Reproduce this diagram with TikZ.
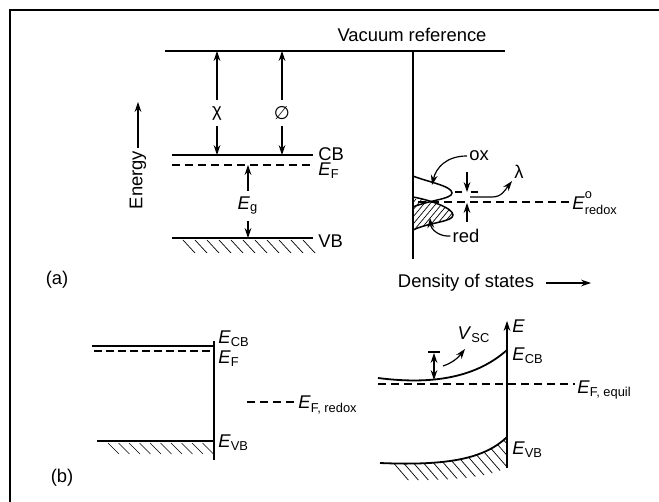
\documentclass[tikz,border=0pt]{standalone}
\usepackage{fontspec}
\setmainfont{Liberation Sans}
\newfontfamily\symfont{DejaVu Sans}
\usetikzlibrary{arrows.meta,positioning,calc}
\newcommand{\lev}[1]{\textit{E}\textsubscript{#1}}
\newcommand{\scriptfnt}{\fontsize{6.4}{7}\selectfont}
\newcommand{\redoxlabel}{\textit{E}\rlap{\raisebox{1.15ex}{\scriptfnt o}}\raisebox{-0.55ex}{\scriptfnt redox}}

\begin{document}
\begin{tikzpicture}[x=0.5pt, y=-0.5pt,
  every node/.style={font=\fontsize{9.2}{11}\selectfont, inner sep=1pt},
  level/.style={line width=0.9pt},
  thinline/.style={line width=0.6pt},
  fermi/.style={dash pattern=on 4pt off 2.5pt, line width=0.6pt},
  hatch/.style={line width=0.35pt},
  arr/.style={-{Stealth[length=5pt,width=3.4pt]}, line width=0.6pt}]
\useasboundingbox (0,0) rectangle (659,502);
\draw[line width=1pt] (10,502) -- (10,10) -- (659,10);

% (a) energy levels
\coordinate (vacL) at (165,51); \coordinate (vacR) at (505,51);
\coordinate (dosT) at (413,51); \coordinate (dosB) at (413,259);
\coordinate (cbL) at (172,155); \coordinate (cbR) at (313,155);
\coordinate (efL) at (172,165); \coordinate (efR) at (313,165);
\coordinate (vbL) at (172,238); \coordinate (vbR) at (313,238);
\draw[thinline] (vacL) -- (vacR);
\draw[thinline] (dosT) -- (dosB);
\node (vac) at (412,35) {Vacuum reference};
\draw[level] (cbL) -- (cbR);
\draw[fermi] (efL) -- (efR);
\draw[level] (vbL) -- (vbR);
\foreach \x in {183,195,...,303} \draw[hatch] (\x,240) -- ++(12,13);
\node[anchor=west] (cb) at (316,154) {CB};
\node[anchor=west] (ef) at (316,171) {\lev{F}};
\node[anchor=west] (vb) at (316,241) {VB};

\node[inner sep=3pt] (chi) at (217,113) {χ};
\draw[arr] (chi.north) -- (chi.north |- vacL);
\draw[arr] (chi.south) -- (chi.south |- cbL);
\node[inner sep=3pt] (phi) at (282,113) {\symfont ∅};
\draw[arr] (phi.north) -- (phi.north |- vacL);
\draw[arr] (phi.south) -- (phi.south |- cbL);
\node[inner sep=3pt] (eg) at (248,206) {\lev{g}};
\draw[arr] (eg.north) -- (eg.north |- efL);
\draw[arr] (eg.south) -- (eg.south |- vbL);

\node[rotate=90] (energy) at (138,180) {Energy};
\coordinate (enTip) at (138,102);
\draw[arr] (energy.east) -- (enTip);
\node (la) at (57,280) {(a)};

% (a) density of states
\begin{scope}
\clip (413,197) .. controls (430,200) and (453,208) .. (453,215) .. controls (453,222) and (430,222) .. (413,230) -- cycle;
\foreach \x in {380,386,...,470} \draw[hatch] (\x,235) -- ++(30,-36);
\end{scope}
\draw[line width=0.75pt] (413,176) .. controls (428,182) and (452,186) .. (452,193) .. controls (452,199) and (430,200) .. (413,207);
\draw[line width=0.75pt] (413,197) .. controls (430,200) and (453,208) .. (453,215) .. controls (453,222) and (430,222) .. (413,230);
\coordinate (redoxL) at (418,202); \coordinate (redoxR) at (570,202);
\draw[fermi] (redoxL) -- (redoxR);
\node[anchor=west] (redox) at (570,203) {\redoxlabel};
\draw[thinline] (455,192) -- (462,192) (471,192) -- (478,192);
\coordinate (lamT) at (467,192); \coordinate (lamB) at (467,203);
\coordinate (lamA) at (467,172); \coordinate (lamC) at (467,222);
\draw[arr] (lamA) -- (lamT);
\draw[arr] (lamC) -- (lamB);
\node (lam) at (519,172) {λ};
\coordinate (lamS) at (470,197);
\draw[arr] (lamS) -- (492,197) .. controls (502,197) and (505,190) .. (lam.south west);
\node (ox) at (479,156) {ox};
\draw[arr] (ox.west) .. controls (446,156) and (436,168) .. (432,185);
\node (red) at (466,236) {red};
\draw[arr] (red.west) .. controls (440,237) and (431,230) .. (430,218);
\node (dos) at (466,283) {Density of states};
\coordinate (dosTip) at (591,283);
\draw[arr] ([xshift=5pt]dos.east) -- (dosTip);

% (b) flat bands
\coordinate (sT) at (214,341); \coordinate (sB) at (214,460);
\draw[thinline] (sT) -- (sB);
\coordinate (ecbL) at (92,346); \coordinate (ecbR) at (214,346);
\coordinate (efbL) at (94,351); \coordinate (efbR) at (214,351);
\coordinate (evbL) at (97,441); \coordinate (evbR) at (214,441);
\draw[level] (ecbL) -- (ecbR);
\draw[dash pattern=on 4pt off 2pt, line width=0.9pt] (efbL) -- (efbR);
\draw[level] (evbL) -- (evbR);
\foreach \x in {108,118.5,...,203} \draw[hatch] (\x,443) -- ++(11,11);
\node[anchor=west] (ecb) at (216,339) {\lev{CB}};
\node[anchor=west] (efb) at (216,359) {\lev{F}};
\node[anchor=west] (evb) at (216,443) {\lev{VB}};
\coordinate (efrL) at (247,402); \coordinate (efrR) at (296,402);
\draw[fermi] (efrL) -- (efrR);
\node[anchor=west] (efr) at (296,405) {\lev{F, redox}};
\node (lb) at (62,478) {(b)};

% (b) bent bands
\coordinate (eB) at (507,468); \coordinate (eT) at (507,321);
\draw[arr] (eB) -- (eT);
\node[anchor=west] (E) at (510,326) {\textit{E}};
\draw[level] (378,378) .. controls (440,386) and (480,374) .. (507,350);
\node[anchor=west] (ecb2) at (510,356) {\lev{CB}};
\coordinate (eqL) at (378,384); \coordinate (eqR) at (575,384);
\draw[fermi] (eqL) -- (eqR);
\node[anchor=west] (eq) at (575,390) {\lev{F, equil}};
\coordinate (vscT) at (434,353); \coordinate (vscB) at (434,380);
\draw[thinline] (428,352) -- (440,352);
\draw[{Stealth[length=5pt,width=3.4pt]}-{Stealth[length=5pt,width=3.4pt]}, line width=0.6pt] (vscT) -- (vscB);
\node (vsc) at (474,335) {\textit{V}\textsubscript{SC}};
\coordinate (vscS) at (443,366);
\draw[arr] (vscS) .. controls (452,363) and (458,358) .. (465,349);
\begin{scope}
\clip (380,463) .. controls (450,466) and (485,458) .. (507,437) -- (507,468) .. controls (485,478) and (450,481) .. (390,480) -- cycle;
\foreach \x in {365,375,...,515} \draw[hatch] (\x,430) -- ++(45,52);
\end{scope}
\draw[level] (380,463) .. controls (450,466) and (485,458) .. (507,437);
\node[anchor=west] (evb2) at (510,450) {\lev{VB}};
\end{tikzpicture}
\end{document}
